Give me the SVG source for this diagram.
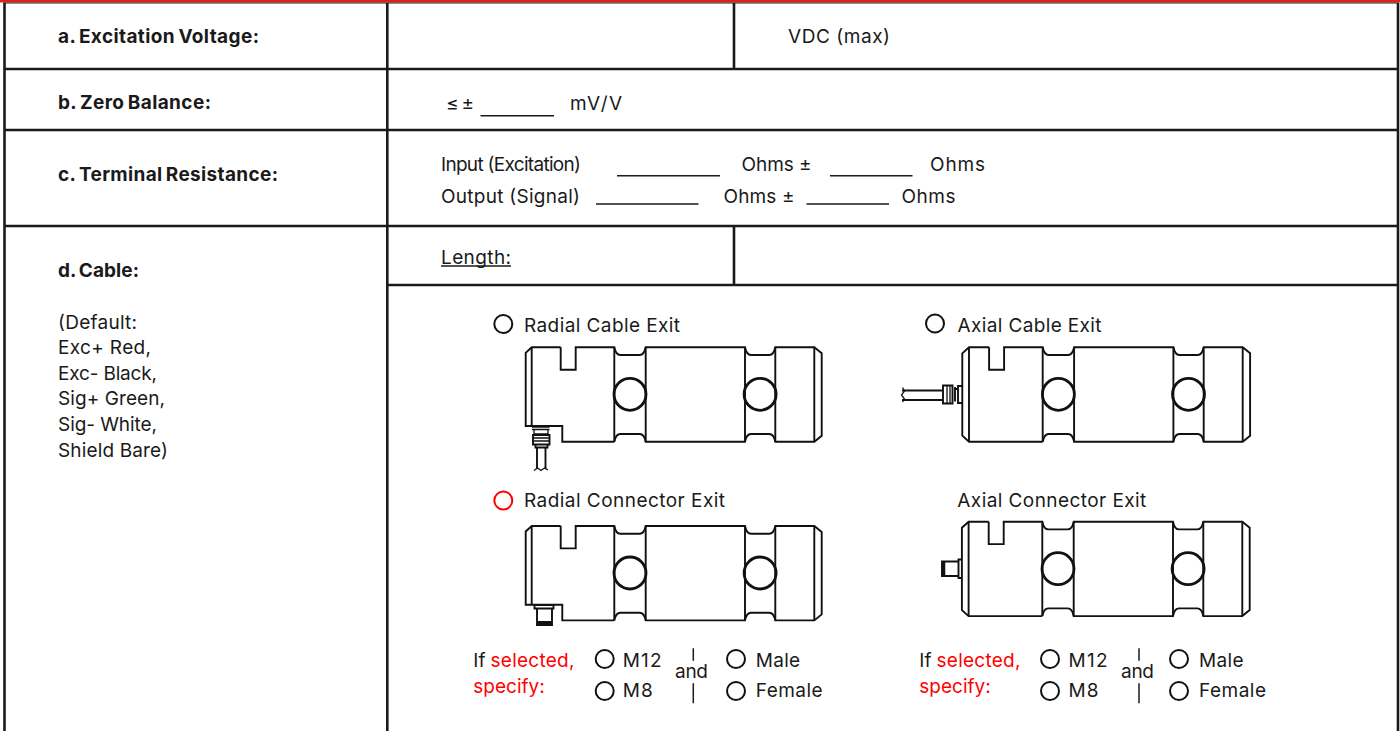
<svg xmlns="http://www.w3.org/2000/svg" width="1400" height="731" viewBox="0 0 1400 731">
<style>
text{font-family:"Inter","Liberation Sans",sans-serif;font-size:19px;fill:#1a1a1a}
.b{font-weight:700;word-spacing:-1.500px}
.r{fill:#f00}
.g{stroke:#1a1a1a;stroke-width:2.600;fill:none}
.u{stroke:#1a1a1a;stroke-width:1.500;fill:none}
.o{stroke:#111;stroke-width:2;fill:#fff}
.l{stroke:#111;stroke-width:1.900;fill:none}
.t{stroke:#111;stroke-width:1.300;fill:none}
.c{stroke:#111;stroke-width:2.800;fill:none}
</style>
<defs>
<g id="ends">
<path class="l" d="M-53.600 0V22.400H-38.600V0H0C1 5 3 7.700 6 7.700H25.400C28.400 7.700 30.400 5 31.400 0H130.700C131.700 5 133.700 7.700 136.700 7.700H155C158 7.700 160 5 161 0H200L207.400 6V88.400L200 94.400H161C160 89.400 158 86.700 155 86.700H136.700C133.700 86.700 131.700 89.400 130.700 94.400H31.400C30.400 89.400 28.400 86.700 25.400 86.700H6C3 86.700 1 89.400 0 94.400"/>
<path class="l" d="M0 0V94.400M31.400 0V94.400M130.700 0V94.400M161 0V94.400M200 0V94.400"/>
<circle class="c" cx="15.700" cy="47" r="16"/><circle class="c" cx="145.800" cy="47" r="16"/>
</g>
<g id="radial"><use href="#ends"/><path class="l" d="M-53.600 0H-82.600L-88.600 5.500V78.700H-52V94.400H0M-82.600 0V78.700"/></g>
<g id="axial"><use href="#ends"/><path class="l" d="M-53.600 0H-73.700L-80.400 6V88.400L-73.700 94.400H0M-73.700 0V94.400"/></g>
</defs>
<g id="grid">
<path d="M0 1.200H1400" stroke="#e0201a" stroke-width="2.400"/>
<path d="M3 3H1399" stroke="#1a1a1a" stroke-width="1.200"/>
<path class="g" d="M4.500 3V731M387.300 3V731M1398 3V731M4 69H1398M4 130H1398M4 226H1398M387 285H1398M734 3V69M734 226V285"/>
</g>
<g id="row-a"><text class="b" x="58" y="42.500" textLength="201">a. Excitation Voltage:</text><text x="788" y="43" textLength="102">VDC (max)</text></g>
<g id="row-b"><text class="b" x="58" y="109" textLength="153">b. Zero Balance:</text><text x="446" y="110" textLength="28">≤ ±</text><path class="u" d="M480.500 115.700H554"/><text x="570" y="110" textLength="52">mV/V</text></g>
<g id="row-c"><text class="b" x="58" y="181" textLength="220">c. Terminal Resistance:</text>
<text x="441" y="171" textLength="140">Input (Excitation)</text><path class="u" d="M617 175.700H720"/><text x="741.500" y="171" textLength="70">Ohms ±</text><path class="u" d="M830 175.700H912.500"/><text x="930" y="171" textLength="55">Ohms</text>
<text x="441" y="203" textLength="139">Output (Signal)</text><path class="u" d="M596 204H698.500"/><text x="723.500" y="203" textLength="71">Ohms ±</text><path class="u" d="M806.500 204H889"/><text x="901.500" y="203" textLength="54">Ohms</text></g>
<g id="row-d"><text class="b" x="58" y="276.700" textLength="81">d. Cable:</text><text x="441" y="264" textLength="70">Length:</text><path class="u" d="M441 266H511"/>
<text x="58" y="329" textLength="79">(Default:</text><text x="58" y="354" textLength="93">Exc+ Red,</text><text x="58" y="380" textLength="99">Exc- Black,</text><text x="58" y="405" textLength="107">Sig+ Green,</text><text x="58" y="430.700" textLength="99">Sig- White,</text><text x="58" y="456.700" textLength="110">Shield Bare)</text></g>
<g id="radial-cable"><circle class="o" cx="503.300" cy="324" r="9"/><text x="524" y="331.700" textLength="156">Radial Cable Exit</text><use href="#radial" x="614.300" y="347.300"/>
<path class="t" d="M532 427H549.500M532 429.500H549.500M534 429.500V434H548V429.500"/><path class="l" d="M533 435H549.500V444.500H533ZM535.500 444.500V447.500H547.500V444.500"/><path class="t" d="M533 438H549.500M533 441H549.500"/><path class="l" d="M537 447.500V469M545.500 447.500V469"/><path class="t" d="M534 470.500L537.500 468L541 470.500L544.500 468L548 470"/></g>
<g id="axial-cable"><circle class="o" cx="935" cy="323.500" r="9"/><text x="957.500" y="331.700" textLength="144">Axial Cable Exit</text><use href="#axial" x="1042.700" y="347.300"/>
<path class="l" d="M962 386H958V403H962M958 389H955M943 385.500H952.500V403.500H943ZM955 387V401.500M902 390.500H943M902 400H943"/><path class="t" d="M947 385.500V403.500M950 385.500V403.500"/><path class="t" d="M902.500 387.500L904.500 391L901.500 395L904.500 399L902.500 402"/></g>
<g id="radial-connector"><circle class="o" cx="503.300" cy="500.500" r="9" style="stroke:#f00"/><text x="524" y="507.300" textLength="201">Radial Connector Exit</text><use href="#radial" x="614.300" y="526"/>
<path class="l" d="M534.500 605H553.500V608.500H534.500ZM537 608.500V625H552V608.500"/><path d="M537 622.500H552" stroke="#111" stroke-width="3"/></g>
<g id="axial-connector"><text x="957.300" y="507.300" textLength="189">Axial Connector Exit</text><use href="#axial" x="1042.300" y="521.700"/>
<path class="l" d="M962 559.500H958.500V578H962M958.500 561.500H942V576H958.500M958.500 564V574"/><path d="M943.500 561.500V576" stroke="#111" stroke-width="3.500"/></g>
<g id="specify-left"><text x="473.300" y="666.700">If</text><text class="r" x="490.500" y="666.700" textLength="84">selected,</text><text class="r" x="473.300" y="692.700" textLength="71.500">specify:</text>
<circle class="o" cx="604.700" cy="659" r="9"/><text x="622.700" y="666.700" textLength="39">M12</text><circle class="o" cx="604.700" cy="691" r="9"/><text x="622.700" y="696.700" textLength="30">M8</text>
<text x="675" y="678.300" textLength="33">and</text><path class="u" d="M693.300 648.300V660.700M693.300 683.300V703.300"/>
<circle class="o" cx="736" cy="659" r="9"/><text x="755.700" y="666.700" textLength="44.500">Male</text><circle class="o" cx="736" cy="691" r="9"/><text x="755.700" y="696.700" textLength="67">Female</text></g>
<g id="specify-right"><text x="919.300" y="666.700">If</text><text class="r" x="936.500" y="666.700" textLength="84">selected,</text><text class="r" x="919.300" y="692.700" textLength="71.500">specify:</text>
<circle class="o" cx="1050" cy="659" r="9"/><text x="1068.500" y="666.700" textLength="39">M12</text><circle class="o" cx="1050" cy="691" r="9"/><text x="1068.500" y="696.700" textLength="30">M8</text>
<text x="1121" y="678.300" textLength="33">and</text><path class="u" d="M1139 648.300V660.700M1139 683.300V703.300"/>
<circle class="o" cx="1179" cy="659" r="9"/><text x="1199" y="666.700" textLength="44.500">Male</text><circle class="o" cx="1179" cy="691" r="9"/><text x="1199" y="696.700" textLength="67">Female</text></g>
</svg>
